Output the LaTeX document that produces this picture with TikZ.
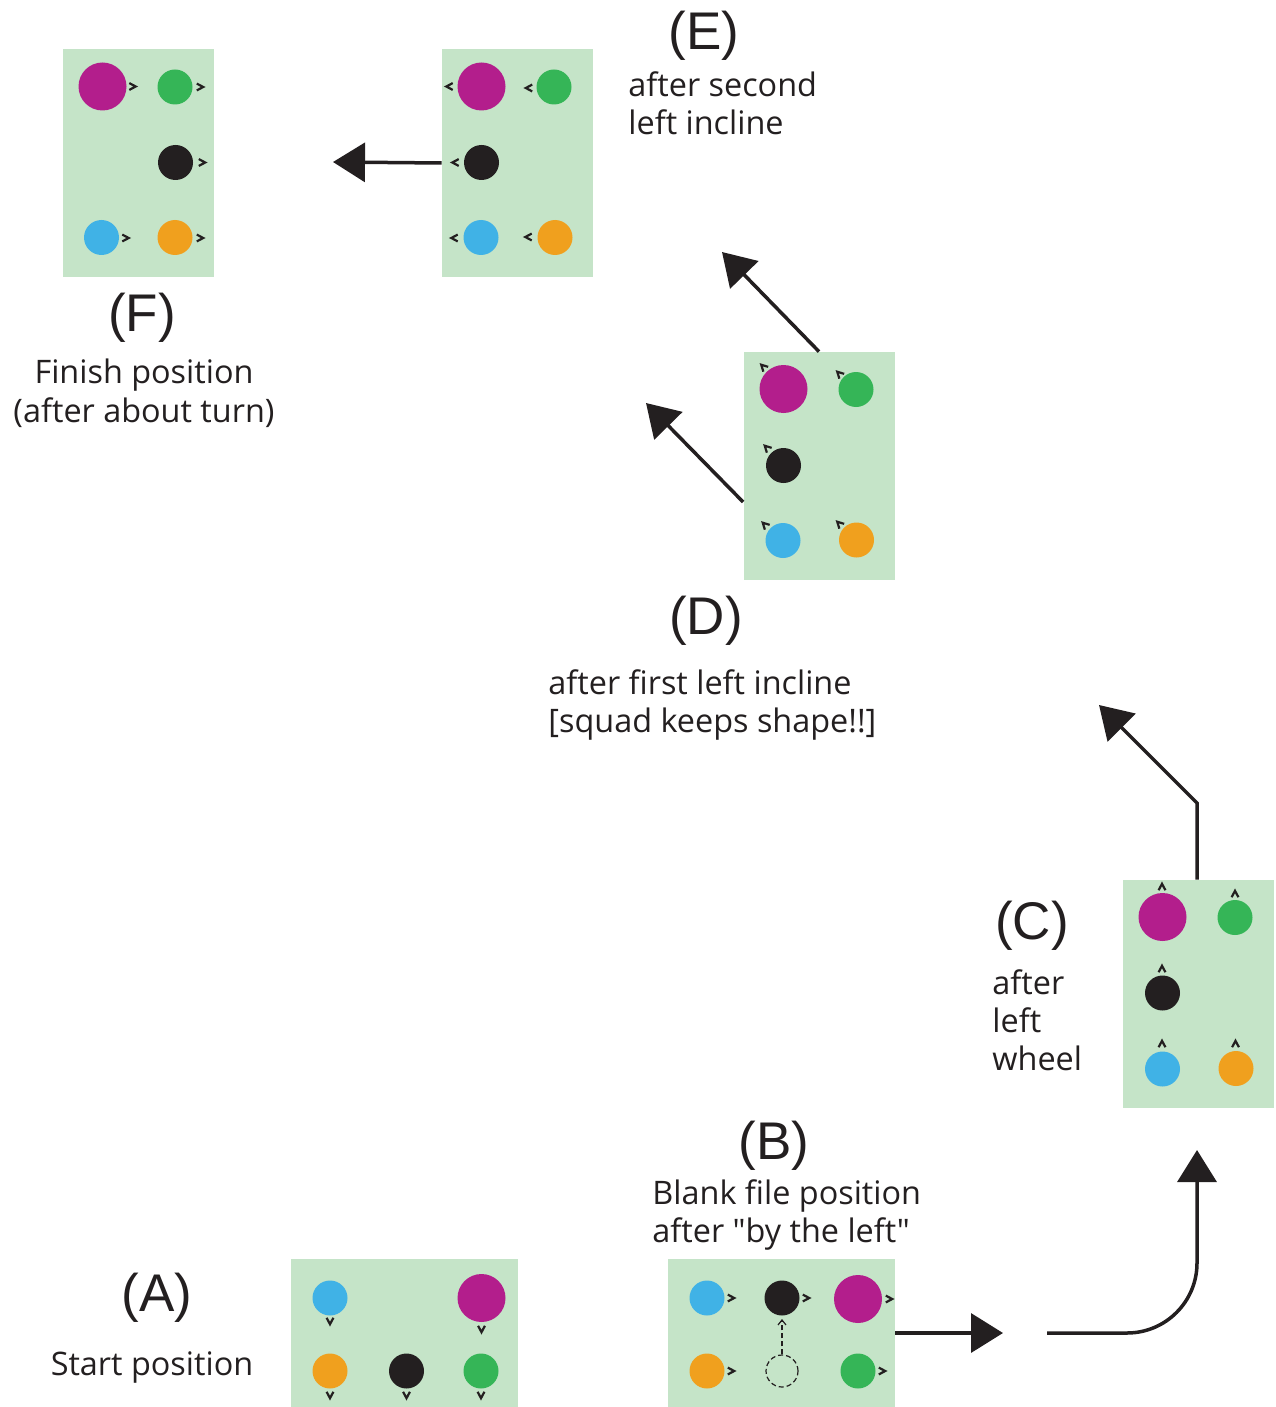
\documentclass[tikz,border=0pt]{standalone}
\usepackage{fontspec}
\setmainfont{Open Sans}
\newfontfamily\txtfont[Ligatures=TeXOff]{Open Sans}
\newfontfamily\labfont{Liberation Sans}
\usetikzlibrary{arrows.meta}
\definecolor{panelc}{RGB}{197,228,200}
\definecolor{cmag}{RGB}{179,30,140}
\definecolor{cgreen}{RGB}{53,181,87}
\definecolor{cblack}{RGB}{35,31,32}
\definecolor{cblue}{RGB}{64,178,230}
\definecolor{corange}{RGB}{240,160,30}
\tikzset{
  panel/.style={rectangle, fill=panelc, draw=none, inner sep=0pt, minimum width=75.5pt, minimum height=114pt},
  widepanel/.style={panel, minimum width=113.5pt, minimum height=74pt},
  dot/.style={circle, inner sep=0pt, minimum size=17.5pt, draw=none},
  bigdot/.style={dot, minimum size=24pt, fill=cmag},
  ghost/.style={circle, inner sep=0pt, minimum size=16pt, draw=cblack, line width=0.6pt, dash pattern=on 2.5pt off 1.5pt},
  chev/.pic={\draw[line width=1.1pt, cblack, line join=miter] (-3.2,-3.4) -- (3.2,0) -- (-3.2,3.4);},
  bigarrow/.style={line width=1.75pt, cblack, -{Triangle[length=16pt, width=19.5pt]}},
  lab/.style={font=\labfont\fontsize{26.5}{30}\selectfont, text=cblack, inner sep=0pt},
  txt/.style={font=\txtfont\fontsize{16.2}{19}\selectfont, text=cblack, inner sep=0pt}
}
\begin{document}
\begin{tikzpicture}[x=0.5pt, y=-0.5pt]
\useasboundingbox (0,0) rectangle (1275,1407);

% ---------- Panel A ----------
\node[widepanel] (A) at (404.5,1333) {};
\node[dot, fill=cblue] (Ablue) at (330,1298) {};
\node[bigdot] (Amag) at (481.5,1298) {};
\node[dot, fill=corange] (Aora) at (330,1371) {};
\node[dot, fill=cblack] (Ablk) at (406.5,1371) {};
\node[dot, fill=cgreen] (Agrn) at (481,1371) {};
\pic[rotate=-90] at (330,1321) {chev};
\pic[rotate=-90] at (481.5,1329) {chev};
\pic[rotate=-90] at (330,1395) {chev};
\pic[rotate=-90] at (406.5,1395) {chev};
\pic[rotate=-90] at (481,1395) {chev};

% ---------- Panel B ----------
\node[widepanel] (B) at (781.5,1333) {};
\node[dot, fill=cblue] (Bblue) at (707,1298) {};
\node[dot, fill=cblack] (Bblk) at (782,1298) {};
\node[bigdot] (Bmag) at (858,1299) {};
\node[dot, fill=corange] (Bora) at (707,1371) {};
\node[ghost] (Bghost) at (782,1371) {};
\node[dot, fill=cgreen] (Bgrn) at (858,1371) {};
\pic at (731,1298) {chev};
\pic at (806,1298) {chev};
\pic at (889,1299) {chev};
\pic at (731,1371) {chev};
\pic at (882,1371) {chev};
\coordinate (Btip) at (782,1319);
\draw[cblack, line width=0.6pt, dash pattern=on 2.5pt off 1.5pt, -{Straight Barb[length=2.5pt, width=4pt]}] (Bghost.north) -- (Btip);

% ---------- Panel C ----------
\node[panel] (C) at (1198.5,994) {};
\node[bigdot] (Cmag) at (1162.5,917) {};
\node[dot, fill=cgreen] (Cgrn) at (1235,917.5) {};
\node[dot, fill=cblack] (Cblk) at (1162.5,993) {};
\node[dot, fill=cblue] (Cblue) at (1162.5,1069) {};
\node[dot, fill=corange] (Cora) at (1236,1068.5) {};
\pic[rotate=90] at (1162,887) {chev};
\pic[rotate=90] at (1235,894) {chev};
\pic[rotate=90] at (1162,969) {chev};
\pic[rotate=90] at (1162,1044) {chev};
\pic[rotate=90] at (1235.5,1044) {chev};

% ---------- Panel D ----------
\node[panel] (D) at (819,466) {};
\node[bigdot] (Dmag) at (783.5,389) {};
\node[dot, fill=cgreen] (Dgrn) at (856,389.5) {};
\node[dot, fill=cblack] (Dblk) at (783.5,465.5) {};
\node[dot, fill=cblue] (Dblue) at (783,540.5) {};
\node[dot, fill=corange] (Dora) at (856.5,540) {};
\pic[rotate=135] at (763.5,367) {chev};
\pic[rotate=135] at (839.5,374) {chev};
\pic[rotate=135] at (767,448) {chev};
\pic[rotate=135] at (765,525) {chev};
\pic[rotate=135] at (839.5,524) {chev};

% ---------- Panel E ----------
\node[panel] (E) at (517.5,163) {};
\node[bigdot] (Emag) at (481.5,86.5) {};
\node[dot, fill=cgreen] (Egrn) at (554,87) {};
\node[dot, fill=cblack] (Eblk) at (481.5,162.5) {};
\node[dot, fill=cblue] (Eblue) at (481,237.5) {};
\node[dot, fill=corange] (Eora) at (555,237.5) {};
\pic[rotate=180] at (449.5,86.5) {chev};
\pic[rotate=180] at (529,88) {chev};
\pic[rotate=180] at (455.5,162.5) {chev};
\pic[rotate=180] at (454.5,238) {chev};
\pic[rotate=180] at (528.5,237) {chev};

% ---------- Panel F ----------
\node[panel] (F) at (138.25,163) {};
\node[bigdot] (Fmag) at (102.5,86.5) {};
\node[dot, fill=cgreen] (Fgrn) at (175,87) {};
\node[dot, fill=cblack] (Fblk) at (175.5,162.5) {};
\node[dot, fill=cblue] (Fblue) at (101.5,237.5) {};
\node[dot, fill=corange] (Fora) at (175,237.5) {};
\pic at (132.5,86.5) {chev};
\pic at (200,87) {chev};
\pic at (202,162.5) {chev};
\pic at (125.5,238) {chev};
\pic at (200,238) {chev};

% ---------- Arrows ----------
\coordinate (t1) at (1003,1333);
\draw[bigarrow] (B.east) -- (t1);

\coordinate (s2) at (1047,1333);
\coordinate (c2) at (1197,1333);
\coordinate (t2) at (1197,1150);
\draw[bigarrow, rounded corners=35pt] (s2) -- (c2) -- (t2);

\coordinate (c3) at (1197,803);
\coordinate (t3) at (1099,705);
\draw[bigarrow] (c3 |- C.north) -- (c3) -- (t3);

\coordinate (t4) at (722,252);
\draw[bigarrow] (D.north) -- (t4);

\coordinate (y5) at (0,502);
\coordinate (s5) at (D.west |- y5);
\coordinate (t5) at (646,403);
\draw[bigarrow] (s5) -- (t5);

\coordinate (t6) at (333,162);
\draw[bigarrow] (E.west) -- (t6);

% ---------- Labels ----------
\node[lab] (LA) at (157,1298) {(A)};
\node[txt, anchor=base] (TA) at (152,1375) {Start position};

\node[lab] (LB) at (774,1146) {(B)};
\node[txt, anchor=base west] (TB1) at (652,1204) {Blank file position};
\node[txt, anchor=base west] (TB2) at (652,1242) {after "by the left"};

\node[lab] (LC) at (1032,926) {(C)};
\node[txt, anchor=base west] (TC1) at (992,994) {after};
\node[txt, anchor=base west] (TC2) at (992,1032) {left};
\node[txt, anchor=base west] (TC3) at (992,1070) {wheel};

\node[lab] (LD) at (706,621) {(D)};
\node[txt, anchor=base west] (TD1) at (548,694) {after first left incline};
\node[txt, anchor=base west] (TD2) at (548,732) {[squad keeps shape!!]};

\node[lab] (LE) at (704,36) {(E)};
\node[txt, anchor=base west] (TE1) at (628,97) {after second};
\node[txt, anchor=base west] (TE2) at (628,135) {left incline};

\node[lab] (LF) at (142,318) {(F)};
\node[txt, anchor=base] (TF1) at (144,383) {Finish position};
\node[txt, anchor=base] (TF2) at (144,422) {(after about turn)};
\end{tikzpicture}
\end{document}
